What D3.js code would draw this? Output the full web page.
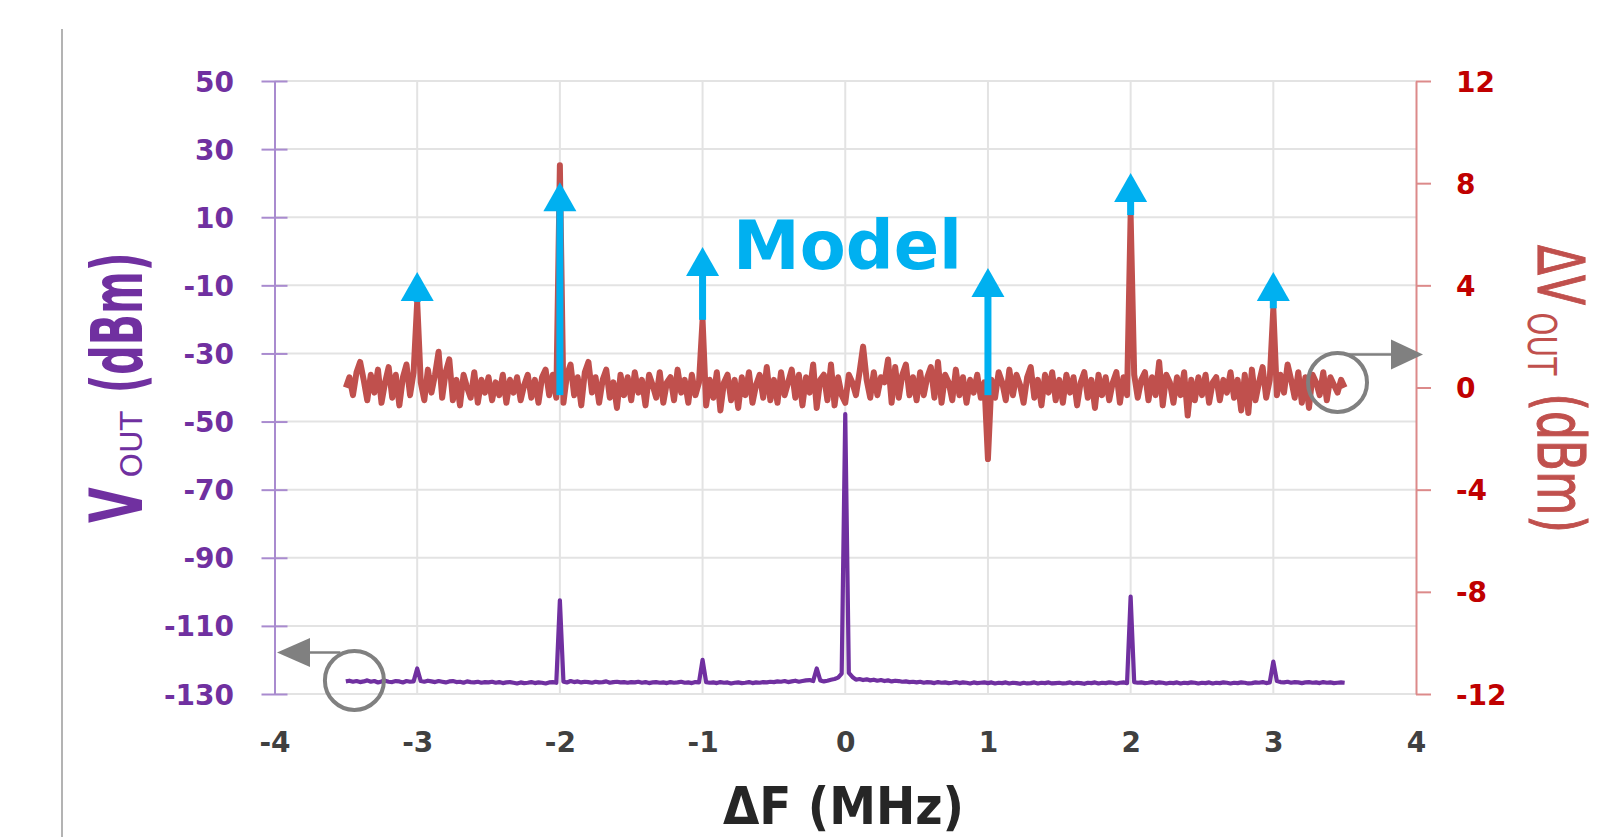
<!DOCTYPE html>
<html>
<head>
<meta charset="utf-8">
<script src="https://cdn.jsdelivr.net/npm/d3@7"></script>
<style>
  body { margin: 0; background: #fff; }
  svg { display: block; font-family: "DejaVu Sans", sans-serif; }
</style>
</head>
<body>
<div id="chart"></div>
<script>
// both traces are sampled on the same grid (MHz)
var dfStart = -3.5, dfStep = 0.025;

var dfTicks = [-4, -3, -2, -1, 0, 1, 2, 3, 4];
var voutTicks = [50, 30, 10, -10, -30, -50, -70, -90, -110, -130];
var dvoutTicks = [12, 8, 4, 0, -4, -8, -12];

// measured dVout (dBm), right axis, one row = 0.5 MHz
var dvout = [
  0.0, 0.4, -0.3, 0.6, 1.0, 0.3, -0.5, 0.5, -0.2, 0.7, -0.6, 0.2, 0.8, -0.4, 0.5, -0.7, 0.4, 0.9, -0.3, 0.6,
  3.35, 0.2, -0.5, 0.7, -0.2, 0.5, 1.4, -0.4, 0.6, 1.1, -0.5, 0.3, -0.7, 0.5, 0.0, -0.4, 0.6, -0.6, 0.3, -0.2,
  0.4, -0.5, 0.2, -0.3, 0.5, -0.6, 0.3, -0.2, 0.4, -0.5, 0.1, 0.5, -0.4, 0.3, -0.6, 0.4, 0.7, -0.3, 0.5, -0.4,
  8.7, -0.6, 0.5, 0.9, -0.3, 0.4, -0.7, 0.6, 1.0, -0.2, 0.4, -0.6, 0.3, 0.7, -0.4, 0.2, -0.8, 0.5, -0.3, 0.4,
  -0.5, 0.6, -0.2, 0.3, -0.7, 0.5, 0.1, -0.4, 0.6, -0.6, 0.2, 0.4, -0.5, 0.7, -0.2, 0.3, -0.6, 0.5, -0.3, 0.2,
  2.65, -0.7, 0.3, -0.4, 0.6, -0.9, 0.2, 0.5, -0.5, 0.3, -0.8, 0.4, -0.3, 0.6, -0.6, 0.1, 0.5, -0.4, 0.8, -0.5,
  0.3, -0.6, 0.6, -0.3, 0.2, 0.7, -0.4, 0.5, -0.7, 0.4, -0.2, 0.9, -0.8, 0.3, 0.5, -0.5, 0.9, -0.7, 0.4, -0.3,
  -0.6, 0.5, 0.2, -0.3, 0.6, 1.6, 0.3, -0.4, 0.6, -0.3, 0.4, 0.2, 1.1, -0.6, 0.8, -0.4, 0.5, 0.9, -0.3, 0.4,
  -0.5, 0.6, -0.3, 0.4, 0.8, -0.4, 1.0, -0.6, 0.5, 0.2, -0.5, 0.7, -0.3, 0.4, -0.6, 0.3, -0.2, 0.5, -0.4, 0.2,
  -2.8, 0.3, -0.4, 0.6, 0.2, -0.5, 0.7, -0.3, 0.5, 0.1, -0.6, 0.4, 0.8, -0.4, 0.3, -0.7, 0.5, -0.2, 0.6, -0.5,
  0.3, -0.6, 0.5, -0.2, 0.4, -0.7, 0.2, 0.6, -0.4, 0.3, -0.8, 0.5, -0.3, 0.4, -0.5, 0.2, 0.6, -0.6, 0.4, -0.3,
  6.75, 0.5, -0.4, 0.3, 0.6, -0.5, 0.4, -0.3, 1.0, -0.7, 0.5, 0.2, -0.6, 0.4, -0.3, 0.6, -1.1, 0.3, -0.5, 0.4,
  -0.3, 0.5, -0.6, 0.2, 0.4, -0.5, 0.3, -0.2, 0.6, -0.4, 0.3, -0.9, 0.5, -1.0, 0.7, -0.5, 0.2, 0.8, -0.4, 0.3,
  3.1, -0.3, 0.5, -0.2, 0.9, 0.3, -0.4, 0.6, -0.6, 0.4, -0.8, 0.5, 0.2, -0.3, 0.6, -0.5, 0.4, 0.1, -0.2, 0.3,
  0.0
];

// measured Vout (dBm), left axis
var vout = [
  -126.3, -126.1, -126.4, -126.2, -126.5, -126.3, -126.0, -126.4, -126.2, -126.6, -126.3, -126.1, -126.4, -126.5, -126.2, -126.3, -126.6, -126.2, -126.4, -126.3,
  -122.5, -126.2, -126.4, -126.1, -126.3, -126.5, -126.2, -126.4, -126.6, -126.3, -126.2, -126.5, -126.4, -126.7, -126.3, -126.5, -126.6, -126.4, -126.7, -126.5,
  -126.6, -126.4, -126.7, -126.5, -126.8, -126.6, -126.5, -126.7, -126.9, -126.6, -126.8, -126.7, -126.5, -126.8, -126.6, -126.7, -126.9, -126.6, -126.5, -126.7,
  -102.5, -126.4, -126.6, -126.2, -126.5, -126.3, -126.6, -126.4, -126.5, -126.7, -126.4, -126.6, -126.5, -126.3, -126.7, -126.5, -126.4, -126.6, -126.5, -126.7,
  -126.5, -126.6, -126.4, -126.7, -126.5, -126.8, -126.6, -126.5, -126.7, -126.6, -126.8, -126.5, -126.7, -126.6, -126.4, -126.7, -126.6, -126.8, -126.5, -126.6,
  -120.0, -126.5, -126.7, -126.6, -126.8, -126.5, -126.7, -126.6, -126.9, -126.7, -126.6, -126.8, -126.7, -126.5, -126.8, -126.6, -126.7, -126.5, -126.6, -126.4,
  -126.5, -126.3, -126.4, -126.2, -126.5, -126.3, -126.1, -126.4, -126.2, -126.0, -125.9, -126.2, -122.5, -126.0, -126.3, -126.1, -125.8, -125.6, -125.2, -124.0,
  -47.8, -123.8, -125.0, -125.8, -125.6, -125.9, -125.7, -126.0, -125.8, -126.1, -125.9, -126.2, -126.0, -126.3, -126.1, -126.2, -126.4, -126.3, -126.5, -126.4,
  -126.6, -126.4, -126.7, -126.5, -126.6, -126.8, -126.5, -126.7, -126.6, -126.8, -126.7, -126.5, -126.8, -126.6, -126.7, -126.9, -126.6, -126.8, -126.7, -126.6,
  -126.8, -126.6, -126.9, -126.7, -126.8, -126.6, -126.9, -126.7, -126.8, -127.0, -126.7, -126.9, -126.8, -126.6, -126.9, -126.7, -126.8, -126.6, -126.9, -126.8,
  -126.7, -126.9, -126.8, -126.6, -126.9, -126.7, -126.8, -127.0, -126.7, -126.8, -126.6, -126.9, -126.7, -126.8, -126.6, -126.7, -126.9, -126.7, -126.6, -126.8,
  -101.4, -126.5, -126.7, -126.6, -126.8, -126.7, -126.5, -126.8, -126.6, -126.7, -126.9, -126.7, -126.8, -126.6, -126.9, -126.7, -126.8, -126.6, -126.7, -126.9,
  -126.7, -126.8, -126.6, -126.9, -126.7, -126.8, -126.6, -126.7, -126.9, -126.7, -126.8, -126.6, -126.7, -126.9, -126.8, -126.6, -126.7, -126.5, -126.8, -126.6,
  -120.5, -126.2, -126.5, -126.6, -126.4, -126.7, -126.5, -126.6, -126.8, -126.6, -126.5, -126.7, -126.6, -126.8, -126.5, -126.7, -126.6, -126.8, -126.7, -126.6,
  -126.7
];

// model tones (arrows), right axis units
var modelDf = [-3, -2, -1, 1, 2, 3];
var modelTip = [4.52, 8.04, 5.5, 4.68, 8.4, 4.52];
var modelBase = -0.3;

// circled trace ends, pointing at their axis
var callouts = [
  {df: -3.44, v: -126, axis: "left"},
  {df: 3.45, v: 0.2, axis: "right"}
];

var W = 1624, H = 837;
var plot = {left: 274.5, right: 1416, top: 81, bottom: 694};

var svg = d3.select("#chart")
  .append("svg")
    .attr("width", W)
    .attr("height", H);

svg.append("rect").attr("width", W).attr("height", H).attr("fill", "#fff");

// thin frame line at the far left of the figure
svg.append("line")
  .attr("x1", 62).attr("x2", 62)
  .attr("y1", 29).attr("y2", H)
  .attr("stroke", "#b3b3b3")
  .attr("stroke-width", 2);

var x = d3.scaleLinear().domain([-4, 4]).range([plot.left, plot.right]);
var yL = d3.scaleLinear().domain([-130, 50]).range([plot.bottom, plot.top]);
var yR = d3.scaleLinear().domain([-12, 12]).range([plot.bottom, plot.top]);

///////////////////////////////GRID////////////////////////////////////////////
var grid = svg.append("g").attr("stroke", "#e3e3e3").attr("stroke-width", 2);

grid.selectAll(".hgrid")
  .data(voutTicks)
  .enter().append("line")
    .attr("class", "hgrid")
    .attr("x1", plot.left).attr("x2", plot.right)
    .attr("y1", function(d){ return yL(d); })
    .attr("y2", function(d){ return yL(d); });

grid.selectAll(".vgrid")
  .data(dfTicks.filter(function(d){ return d > -4 && d < 4; }))
  .enter().append("line")
    .attr("class", "vgrid")
    .attr("y1", plot.top).attr("y2", plot.bottom)
    .attr("x1", function(d){ return x(d); })
    .attr("x2", function(d){ return x(d); });

///////////////////////////////AXES////////////////////////////////////////////
var gx = svg.append("g")
  .attr("transform", "translate(0," + plot.bottom + ")")
  .call(d3.axisBottom(x).tickValues(dfTicks).tickSize(0).tickPadding(38).tickFormat(String))
  .attr("font-family", "DejaVu Sans")
  .attr("font-size", 28)
  .attr("font-weight", "bold");
gx.select(".domain").remove();
gx.selectAll(".tick text").attr("fill", "#404040");

var gl = svg.append("g")
  .attr("transform", "translate(" + plot.left + ",0)")
  .call(d3.axisLeft(yL).tickValues(voutTicks).tickSize(13).tickSizeOuter(0).tickPadding(27.5).tickFormat(String))
  .attr("font-family", "DejaVu Sans")
  .attr("font-size", 28)
  .attr("font-weight", "bold");
gl.select(".domain").attr("stroke", "#a98bcf").attr("stroke-width", 2);
gl.selectAll(".tick line").attr("x1", 13).attr("stroke", "#a98bcf").attr("stroke-width", 2);
gl.selectAll(".tick text").attr("fill", "#7030a0").attr("dy", "0.36em");

var gr = svg.append("g")
  .attr("transform", "translate(" + plot.right + ",0)")
  .call(d3.axisRight(yR).tickValues(dvoutTicks).tickSize(15).tickSizeOuter(0).tickPadding(25).tickFormat(String))
  .attr("font-family", "DejaVu Sans")
  .attr("font-size", 28)
  .attr("font-weight", "bold");
gr.select(".domain").attr("stroke", "#dc8a8a").attr("stroke-width", 2);
gr.selectAll(".tick line").attr("stroke", "#dc8a8a").attr("stroke-width", 2);
gr.selectAll(".tick text").attr("fill", "#c00000").attr("dy", "0.36em");

///////////////////////////////TRACES//////////////////////////////////////////
function dfAt(i){ return dfStart + i * dfStep; }

svg.append("path")
  .datum(dvout)
  .attr("fill", "none")
  .attr("stroke", "#c0504d")
  .attr("stroke-width", 6)
  .attr("stroke-linejoin", "round")
  .attr("d", d3.line().x(function(d, i){ return x(dfAt(i)); }).y(function(d){ return yR(d); }));

svg.append("path")
  .datum(vout)
  .attr("fill", "none")
  .attr("stroke", "#7030a0")
  .attr("stroke-width", 4.2)
  .attr("stroke-linejoin", "round")
  .attr("d", d3.line().x(function(d, i){ return x(dfAt(i)); }).y(function(d){ return yL(d); }));

///////////////////////////////MODEL ARROWS////////////////////////////////////
var headH = 29, headW = 16.5, stemW = 7;
var arrows = svg.append("g").attr("fill", "#00b0f0");

modelDf.forEach(function(df, k){
  var tip = modelTip[k];
  var measured = dvout[Math.round((df - dfStart) / dfStep)];
  // stem runs down to the measured peak, or to the floor where the peak overshoots the model
  var bottom = measured >= tip ? modelBase : Math.max(measured, modelBase);
  var xt = x(df), yt = yR(tip);
  arrows.append("rect")
    .attr("x", xt - stemW / 2)
    .attr("y", yt + headH - 2)
    .attr("width", stemW)
    .attr("height", Math.max(0, yR(bottom) - (yt + headH - 2)));
  arrows.append("path")
    .attr("d", "M" + xt + "," + yt + "L" + (xt + headW) + "," + (yt + headH) + "L" + (xt - headW) + "," + (yt + headH) + "Z");
});

svg.append("text")
  .attr("x", 733)
  .attr("y", 269)
  .attr("fill", "#00b0f0")
  .style("font-size", "67px")
  .style("font-weight", "bold")
  .text("Model");

///////////////////////////////CALLOUTS////////////////////////////////////////
var callG = svg.append("g").attr("stroke", "#808080").attr("fill", "#808080");
var r = 29.5;
callouts.forEach(function(c){
  var cx = x(c.df), cy = c.axis == "left" ? yL(c.v) : yR(c.v);
  var ly = cy - r + 1.5;
  callG.append("circle")
    .attr("cx", cx).attr("cy", cy).attr("r", r)
    .attr("fill", "none")
    .attr("stroke-width", 4);
  if (c.axis == "left") {
    var tipX = plot.left + 2.5;
    callG.append("line").attr("x1", cx - 14).attr("x2", tipX + 30).attr("y1", ly).attr("y2", ly).attr("stroke-width", 2.5);
    callG.append("path").attr("stroke", "none")
      .attr("d", "M" + tipX + "," + ly + "L" + (tipX + 33) + "," + (ly - 14.5) + "L" + (tipX + 33) + "," + (ly + 14.5) + "Z");
  } else {
    var tipR = plot.right + 7;
    callG.append("line").attr("x1", cx + 10).attr("x2", tipR - 30).attr("y1", ly).attr("y2", ly).attr("stroke-width", 2.5);
    callG.append("path").attr("stroke", "none")
      .attr("d", "M" + tipR + "," + ly + "L" + (tipR - 32) + "," + (ly - 15) + "L" + (tipR - 32) + "," + (ly + 15) + "Z");
  }
});

///////////////////////////////TITLES//////////////////////////////////////////
// pieces are laid out one after another along the rotated baseline
function addTitle(tx, ty, angle, color, pieces){
  var g = svg.append("g")
    .attr("transform", "translate(" + tx + "," + ty + ") rotate(" + angle + ")")
    .attr("fill", color);
  var pos = 0;
  pieces.forEach(function(p){
    pos += p.gap;
    var t = g.append("text")
      .attr("transform", "translate(" + pos + "," + p.dy + ") scale(1," + p.sy + ")")
      .style("font-size", p.size + "px")
      .style("font-weight", p.weight)
      .text(p.text);
    if (p.stroke) t.attr("stroke", color).attr("stroke-width", p.stroke);
    pos += t.node().getComputedTextLength();
  });
  return g;
}

addTitle(142, 523, -90, "#7030a0", [
  {text: "V", size: 46, weight: "bold", sy: 1.6, dy: 0, gap: 0},
  {text: "OUT", size: 31, weight: "normal", sy: 1, dy: 0, gap: 10},
  {text: "(dBm)", size: 41, weight: "bold", sy: 1.75, dy: 0, gap: 18}
]);

addTitle(1538, 245, 90, "#c0504d", [
  {text: "\u0394V", size: 44, weight: "normal", sy: 1.47, dy: 0, gap: 0, stroke: 0.8},
  {text: "OUT", size: 29.6, weight: "normal", sy: 1.34, dy: 10, gap: 7},
  {text: "(dBm)", size: 45.5, weight: "normal", sy: 1.43, dy: 0, gap: 18, stroke: 0.8}
]);

svg.append("text")
  .attr("transform", "translate(843.5,824) scale(1,1.1)")
  .attr("text-anchor", "middle")
  .attr("fill", "#262626")
  .style("font-size", "47px")
  .style("font-weight", "bold")
  .text("\u0394F (MHz)");
</script>
</body>
</html>
